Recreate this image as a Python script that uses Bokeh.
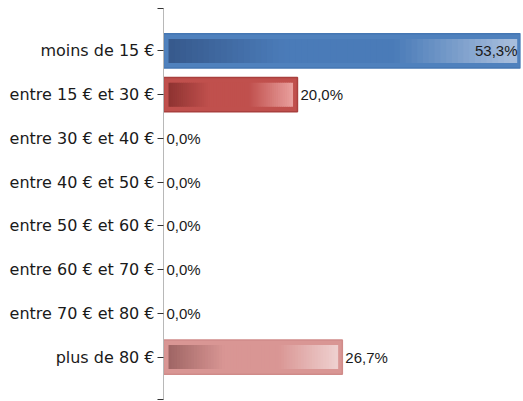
import numpy as np
from bokeh.plotting import figure
from bokeh.models import Range1d, FixedTicker, ColumnDataSource
from bokeh.core.properties import value
from bokeh.embed import file_html
from bokeh.resources import INLINE

# ---- data ----
categories = ["moins de 15 €", "entre 15 € et 30 €", "entre 30 € et 40 €",
              "entre 40 € et 50 €", "entre 50 € et 60 €", "entre 60 € et 70 €",
              "entre 70 € et 80 €", "plus de 80 €"]
percent_values = [53.3, 20.0, 0.0, 0.0, 0.0, 0.0, 0.0, 26.7]
value_labels = ["53,3%", "20,0%", "0,0%", "0,0%", "0,0%", "0,0%", "0,0%", "26,7%"]

# styles per bar: outer fill, border, gradient dark, mid, light
bar_styles = {
    0: ("#4f81bd", "#4577b3", "#36598c", "#4a7bb8", "#a9bfdd"),
    1: ("#c0504d", "#a9403e", "#8e3331", "#c0504d", "#e9a09e"),
    7: ("#d99694", "#d08b89", "#9f6564", "#d99694", "#efd0cf"),
}

n = len(categories)
ypos = np.arange(1, n + 1, dtype=float)
vmax = max(percent_values)

p = figure(width=523, height=401, output_backend="svg", toolbar_location=None,
           x_range=Range1d(0, vmax), y_range=Range1d(n + 0.97, 0.03),
           min_border_left=163, min_border_right=3, min_border_top=8,
           min_border_bottom=2)
p.xaxis.visible = False
p.xgrid.visible = False
p.ygrid.visible = False
p.outline_line_color = None
p.background_fill_color = "white"
p.border_fill_color = "white"

half_h = 0.39
inset_x = 0.75
inner_half = 0.275


def hex2rgb(h):
    return np.array([int(h[i:i + 2], 16) for i in (1, 3, 5)], dtype=float)


def rgb2hex(c):
    return "#%02x%02x%02x" % tuple(int(round(v)) for v in c)


for i, v in enumerate(percent_values):
    if v <= 0 or i not in bar_styles:
        continue
    outer, border, dark, mid, light = bar_styles[i]
    y = ypos[i]
    p.quad(left=[0], right=[v], top=[y - half_h], bottom=[y + half_h],
           fill_color=outer, line_color=border, line_width=1.5)
    a, b = inset_x, v - inset_x
    N = 60
    edges = np.linspace(a, b, N + 1)
    t = (np.arange(N) + 0.5) / N
    cd, cm, cl = hex2rgb(dark), hex2rgb(mid), hex2rgb(light)
    cols = []
    for tt in t:
        if tt < 0.33:
            f = tt / 0.33
            c = cd + (cm - cd) * f
        elif tt < 0.65:
            c = cm
        else:
            f = (tt - 0.65) / 0.35
            c = cm + (cl - cm) * f
        cols.append(rgb2hex(c))
    src = ColumnDataSource(dict(left=edges[:-1], right=edges[1:] + (b - a) / N * 0.3,
                                top=[y - inner_half] * N, bottom=[y + inner_half] * N,
                                color=cols))
    p.quad(left="left", right="right", top="top", bottom="bottom",
           fill_color="color", line_color=None, source=src)

# value labels
align = ["right" if v == vmax else "left" for v in percent_values]
xoff = [-3 if v == vmax else 3 for v in percent_values]
lsrc = ColumnDataSource(dict(x=percent_values, y=ypos, text=value_labels,
                             align=align, xoff=xoff))
p.text(x="x", y="y", text="text", text_align="align", x_offset="xoff",
       text_baseline="middle", text_font=value("Liberation Sans"),
       text_font_size="15px", text_color="#1a1a1a", source=lsrc)

# y axis
ticks = [0.03] + list(ypos) + [n + 0.97]
p.yaxis.ticker = FixedTicker(ticks=ticks)
overrides = {float(t): "" for t in ticks}
for yy, c in zip(ypos, categories):
    overrides[float(yy)] = c
p.yaxis.major_label_overrides = overrides
p.yaxis.minor_tick_line_color = None
p.yaxis.major_tick_in = 0
p.yaxis.major_tick_out = 6
p.yaxis.major_tick_line_color = "#333333"
p.yaxis.axis_line_color = "#b8b8b8"
p.yaxis.major_label_standoff = 3
p.yaxis.major_label_text_font = "DejaVu Sans"
p.yaxis.major_label_text_font_size = "16px"
p.yaxis.major_label_text_color = "#1a1a1a"

open("out.html", "w").write(file_html(p, INLINE))
